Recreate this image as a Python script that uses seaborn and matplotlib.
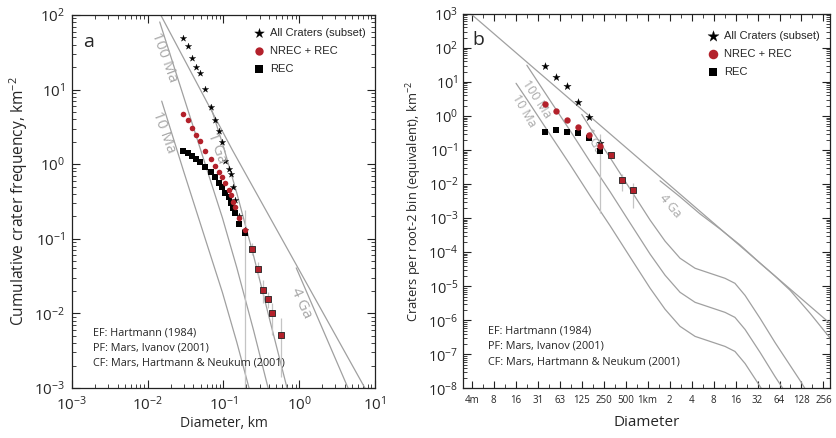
import matplotlib
matplotlib.use("Agg")
import matplotlib.pyplot as plt
import matplotlib.ticker as mticker
import seaborn as sns

# ---------------- panel a : cumulative frequency ----------------
a_diam = [0.0291, 0.0339, 0.0387, 0.0437, 0.0483, 0.0574, 0.0675, 0.0762, 0.0867,
          0.0961, 0.106, 0.117, 0.126, 0.132, 0.142, 0.162, 0.193]
a_all = [48.7, 38.4, 26.8, 19.9, 16.5, 10.1, 5.9, 3.91, 2.79,
         2.0, 1.11, 0.863, 0.746, 0.49, 0.33, 0.2, 0.133]
a_nrec = [4.67, 3.91, 3.08, 2.49, 2.05, 1.50, 1.17, 0.955, 0.793,
          0.68, 0.555, 0.451, 0.386, 0.314, 0.264, 0.188, 0.131]
a_rec = [1.52, 1.40, 1.29, 1.16, 1.06, 0.926, 0.793, 0.667, 0.565,
         0.49, 0.407, 0.36, 0.305, 0.256, 0.22, 0.158, 0.121]
# large craters where all three counts coincide
a_big_diam = [0.239, 0.289, 0.336, 0.383, 0.432, 0.574]
a_big_n = [0.073, 0.0394, 0.0206, 0.01545, 0.0102, 0.00508]
a_err_diam = [0.193, 0.239, 0.289, 0.336, 0.383, 0.432, 0.574]
a_err_lo = [1e-4, 0.061, 0.031, 0.0138, 0.0117, 0.0051, 0.0014]
a_err_hi = [0.243, 0.088, 0.049, 0.028, 0.0195, 0.0136, 0.0086]

# isochrons / equilibrium line (cumulative)
a_ef_d = [0.0144, 0.131, 7.62]
a_ef_n = [106, 1.55, 0.00094]
a_10ma_d = [0.0153, 0.03, 0.06, 0.097, 0.15, 0.25]
a_10ma_n = [7.0, 0.785, 0.087, 0.019, 0.0041, 0.00059]
a_100ma_d = [0.0144, 0.03, 0.06, 0.097, 0.15, 0.25, 0.4]
a_100ma_n = [80.6, 7.85, 0.87, 0.19, 0.041, 0.0059, 0.00089]
a_1ga_d = [0.067, 0.097, 0.15, 0.25, 0.4, 0.75]
a_1ga_n = [6.15, 1.9, 0.41, 0.059, 0.0089, 0.00072]
a_4ga_d = [0.914, 1.6, 4.55, 6.5]
a_4ga_n = [0.0407, 0.0109, 0.00093, 0.00041]

# ---------------- panel b : root-2 incremental ----------------
b_diam = [0.0395, 0.0558, 0.0789, 0.1115, 0.158, 0.2254]
b_all = [29.4, 13.95, 7.42, 2.50, 0.922, 0.158]
b_nrec = [2.29, 1.386, 0.737, 0.468, 0.285, 0.135]
b_rec = [0.333, 0.392, 0.342, 0.311, 0.221, 0.096]
b_big_diam = [0.319, 0.451, 0.638]
b_big_n = [0.0717, 0.0131, 0.00665]
b_err_diam = [0.2254, 0.319, 0.451, 0.638]
b_err_lo = [0.00145, 0.062, 0.00634, 0.00204]
b_err_hi = [0.298, 0.082, 0.0197, 0.0111]

b_ef_d = [0.003515, 315]
b_ef_n = [1153, 8.1e-7]
b_10ma_d = [0.0158, 0.0222, 0.0461, 0.0867, 0.163, 0.307, 0.575, 1.081, 1.734,
            2.78, 4.47, 7.17, 11.5, 15.7, 21.6, 34.8, 55.7]
b_10ma_n = [9.1, 3.09, 0.287, 0.0373, 0.00455, 5.93e-4, 7.22e-5, 8.79e-6, 2.11e-6,
            6.65e-7, 3.37e-7, 2.40e-7, 1.71e-7, 1.22e-7, 5.39e-8, 1.13e-8, 2.21e-9]
b_100ma_d = [0.0222, 0.0461, 0.0867, 0.163, 0.307, 0.575, 1.081, 1.734, 2.78,
             4.47, 7.17, 11.5, 15.7, 21.6, 34.8, 55.7, 123]
b_100ma_n = [30.9, 2.87, 0.373, 0.0455, 0.00593, 7.22e-4, 8.79e-5, 2.11e-5, 6.65e-6,
             3.37e-6, 2.40e-6, 1.71e-6, 1.22e-6, 5.39e-7, 1.13e-7, 2.21e-8, 1.68e-9]
b_1ga_d = [0.1254, 0.163, 0.307, 0.575, 1.081, 1.734, 2.78, 4.47, 7.17,
           11.5, 15.7, 21.6, 34.8, 55.7, 123, 200]
b_1ga_n = [1.107, 0.455, 0.0593, 0.00722, 8.79e-4, 2.11e-4, 6.65e-5, 3.37e-5, 2.40e-5,
           1.71e-5, 1.22e-5, 5.39e-6, 1.13e-6, 2.21e-7, 1.68e-8, 3e-9]
b_4ga_d = [1.481, 2.78, 5.23, 9.82, 18.5, 34.7, 55.7, 89.4, 168, 381]
b_4ga_n = [0.0125, 0.00422, 0.00133, 4.8e-4, 1.62e-4, 4.77e-5, 1.97e-5, 7.62e-6, 1.6e-6, 1.82e-7]

b_tick_km = [2 ** k for k in range(-8, 9)]
b_tick_labels = ["4m", "8", "16", "31", "63", "125", "250", "500", "1km",
                 "2", "4", "8", "16", "32", "64", "128", "256"]
b_minor_km = [2 ** (k + 0.5) for k in range(-9, 9)]

refs = ["EF: Hartmann (1984)", "PF: Mars, Ivanov (2001)",
        "CF: Mars, Hartmann & Neukum (2001)"]

sns.set_style("ticks")
plt.rcParams["font.family"] = ["Open Sans", "DejaVu Sans"]
plt.rcParams["mathtext.default"] = "regular"

ISO = "#a0a0a0"
ERR = "#c4c4c4"
RED = "#b3212b"
LEGEND_FONT = ["Liberation Sans", "DejaVu Sans"]

fig = plt.figure(figsize=(8.36, 4.38), dpi=100)
ax_a = fig.add_axes([0.0861, 0.1142, 0.3624, 0.8516])
ax_b = fig.add_axes([0.5535, 0.1132, 0.4394, 0.8553])


def iso_line(ax, d, n):
    sns.lineplot(x=d, y=n, ax=ax, color=ISO, lw=0.9, sort=False, estimator=None)


def draw_points(ax, diam, all_, nrec, rec, big_d, big_n, err_d, err_lo, err_hi, s):
    ax.vlines(err_d, err_lo, err_hi, color=ERR, lw=0.9, zorder=2)
    sns.scatterplot(x=diam[:len(all_)], y=all_, ax=ax, marker="*", s=s * 1.5,
                    color="black", edgecolor="black", linewidth=0.2, zorder=3,
                    label="All Craters (subset)")
    sns.scatterplot(x=diam, y=rec, ax=ax, marker="s", s=s * 0.85, color="black",
                    edgecolor="black", linewidth=0, zorder=4, label="REC")
    sns.scatterplot(x=diam, y=nrec, ax=ax, marker="o", s=s, color=RED,
                    edgecolor=RED, linewidth=0, zorder=5, label="NREC + REC")
    sns.scatterplot(x=big_d, y=big_n, ax=ax, marker="s", s=s * 1.1, color=RED,
                    edgecolor="#222222", linewidth=0.6, zorder=6)


# ---- panel a ----
for d, n in [(a_ef_d, a_ef_n), (a_10ma_d, a_10ma_n), (a_100ma_d, a_100ma_n),
             (a_1ga_d, a_1ga_n), (a_4ga_d, a_4ga_n)]:
    iso_line(ax_a, d, n)
draw_points(ax_a, a_diam, a_all, a_nrec, a_rec, a_big_diam, a_big_n,
            a_err_diam, a_err_lo, a_err_hi, 16)
ax_a.set_xscale("log")
ax_a.set_yscale("log")
ax_a.set_xlim(1e-3, 1e1)
ax_a.set_ylim(1e-3, 1e2)
ax_a.set_xlabel("Diameter, km", fontsize=10, labelpad=2)
ax_a.set_ylabel("Cumulative crater frequency, km$^{-2}$", fontsize=11.2, labelpad=3)

# ---- panel b ----
for d, n in [(b_ef_d, b_ef_n), (b_10ma_d, b_10ma_n), (b_100ma_d, b_100ma_n),
             (b_1ga_d, b_1ga_n), (b_4ga_d, b_4ga_n)]:
    iso_line(ax_b, d, n)
draw_points(ax_b, b_diam, b_all, b_nrec, b_rec, b_big_diam, b_big_n,
            b_err_diam, b_err_lo, b_err_hi, 21)
ax_b.set_xscale("log")
ax_b.set_yscale("log")
ax_b.set_xlim(2 ** -8.41, 2 ** 8.30)
ax_b.set_ylim(1e-8, 1e3)
ax_b.set_xlabel("Diameter", fontsize=11, labelpad=6)
ax_b.set_ylabel("Craters per root-2 bin (equivalent), km$^{-2}$", fontsize=9.3, labelpad=3)

ax_b.xaxis.set_major_locator(mticker.FixedLocator(b_tick_km))
ax_b.xaxis.set_major_formatter(mticker.FixedFormatter(b_tick_labels))
ax_b.xaxis.set_minor_locator(mticker.FixedLocator(b_minor_km))
ax_b.xaxis.set_minor_formatter(mticker.NullFormatter())
ax_b.yaxis.set_major_locator(mticker.LogLocator(base=10, numticks=15))
ax_b.yaxis.set_minor_locator(mticker.LogLocator(base=10, subs=range(2, 10), numticks=15))
ax_b.yaxis.set_minor_formatter(mticker.NullFormatter())

for ax in (ax_a, ax_b):
    for sp in ax.spines.values():
        sp.set_linewidth(0.9)
        sp.set_color("#222222")
    ax.tick_params(which="both", direction="in", top=True, right=True, color="#222222")
    ax.tick_params(which="major", length=6, width=0.8)
    ax.tick_params(which="minor", length=3, width=0.6)

ax_a.tick_params(axis="both", which="major", labelsize=11, pad=5)
ax_b.tick_params(axis="y", which="major", labelsize=10.5, pad=3)
ax_b.tick_params(axis="x", which="major", labelsize=7, pad=5, length=5)

# legends
for ax, anchor in [(ax_a, (0.584, 0.976)), (ax_b, (0.654, 0.965))]:
    h, l = ax.get_legend_handles_labels()
    order = [l.index("All Craters (subset)"), l.index("NREC + REC"), l.index("REC")]
    ax.legend([h[i] for i in order], [l[i] for i in order], loc="upper left",
              bbox_to_anchor=anchor, frameon=False, handletextpad=0.5,
              labelspacing=0.72, borderaxespad=0, handlelength=1.0, markerscale=1.5,
              prop={"family": LEGEND_FONT, "size": 8})

# panel letters
ax_a.text(0.054, 0.928, "a", transform=ax_a.transAxes, fontsize=14, ha="center", va="center")
ax_b.text(0.042, 0.93, "b", transform=ax_b.transAxes, fontsize=14, ha="center", va="center")

# reference notes
for ax, x0, ys in [(ax_a, 0.07, [0.147, 0.107, 0.067]), (ax_b, 0.069, [0.153, 0.114, 0.071])]:
    for txt, y in zip(refs, ys):
        ax.text(x0, y, txt, transform=ax.transAxes, fontsize=7.8, ha="left", va="center")

# isochron labels
iso_labels_a = [("100 Ma", 0.304, 0.887, -70), ("10 Ma", 0.304, 0.686, -70),
                ("1 Ga", 0.479, 0.643, -70), ("4 Ga", 0.756, 0.228, -65)]
iso_labels_b = [("100 Ma", 0.200, 0.772, -57), ("10 Ma", 0.166, 0.742, -60),
                ("1 Ga", 0.355, 0.660, -62), ("4 Ga", 0.564, 0.487, -50)]
for txt, x, y, rot in iso_labels_a:
    ax_a.text(x, y, txt, transform=ax_a.transAxes, fontsize=11, color="#a8a8a8",
              rotation=rot, ha="center", va="center", rotation_mode="anchor")
for txt, x, y, rot in iso_labels_b:
    ax_b.text(x, y, txt, transform=ax_b.transAxes, fontsize=9, color="#a8a8a8",
              rotation=rot, ha="center", va="center", rotation_mode="anchor")

fig.savefig("out.png", dpi=100)
